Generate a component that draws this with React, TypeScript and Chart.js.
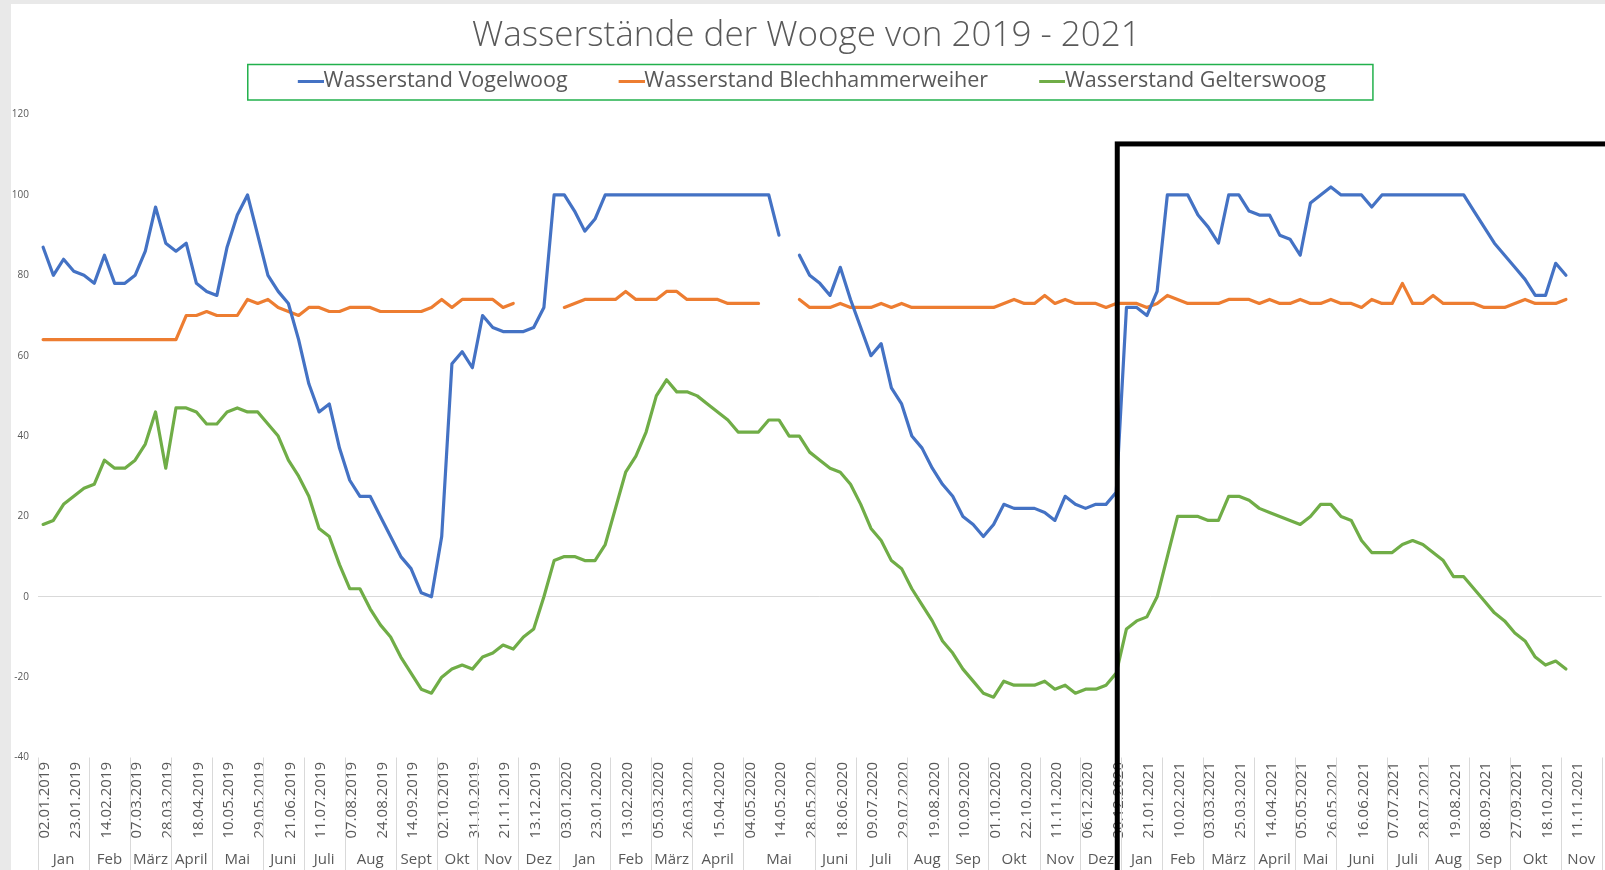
import React, { useEffect, useRef } from 'react';
import { Chart, registerables } from 'chart.js';

Chart.register(...registerables);

const TITLE = 'Wasserstände der Wooge von 2019 - 2021';
const SERIES_NAMES = ['Wasserstand Vogelwoog', 'Wasserstand Blechhammerweiher', 'Wasserstand Gelterswoog'];
const SERIES_COLORS = ['#4472c4', '#ed7d31', '#70ad47'];

// one category per measurement; every third category carries a visible date label
const CATEGORY_COUNT = 153;
const TICK_DATES = [
  '02.01.2019', '23.01.2019', '14.02.2019', '07.03.2019', '28.03.2019', '18.04.2019', '10.05.2019', '29.05.2019',
  '21.06.2019', '11.07.2019', '07.08.2019', '24.08.2019', '14.09.2019', '02.10.2019', '31.10.2019', '21.11.2019',
  '13.12.2019', '03.01.2020', '23.01.2020', '13.02.2020', '05.03.2020', '26.03.2020', '15.04.2020', '04.05.2020',
  '14.05.2020', '28.05.2020', '18.06.2020', '09.07.2020', '29.07.2020', '19.08.2020', '10.09.2020', '01.10.2020',
  '22.10.2020', '11.11.2020', '06.12.2020', '30.12.2020', '21.01.2021', '10.02.2021', '03.03.2021', '25.03.2021',
  '14.04.2021', '05.05.2021', '26.05.2021', '16.06.2021', '07.07.2021', '28.07.2021', '19.08.2021', '08.09.2021',
  '27.09.2021', '18.10.2021', '11.11.2021',
];

// month groups of the two-level category axis
const MONTH_NAMES = [
  'Jan', 'Feb', 'März', 'April', 'Mai', 'Juni', 'Juli', 'Aug', 'Sept', 'Okt', 'Nov', 'Dez',
  'Jan', 'Feb', 'März', 'April', 'Mai', 'Juni', 'Juli', 'Aug', 'Sep', 'Okt', 'Nov', 'Dez',
  'Jan', 'Feb', 'März', 'April', 'Mai', 'Juni', 'Juli', 'Aug', 'Sep', 'Okt', 'Nov',
];
const MONTH_STARTS = [
  0, 5, 9, 13, 17, 22, 26, 30, 35, 39, 43, 47,
  51, 56, 60, 64, 69, 76, 80, 85, 89, 93, 98, 102,
  106, 110, 114, 119, 123, 127, 132, 136, 140, 144, 149,
];

const VOGELWOOG = [
  87, 80, 84, 81, 80, 78, 85, 78, 78, 80,
  86, 97, 88, 86, 88, 78, 76, 75, 87, 95,
  100, 90, 80, 76, 73, 64, 53, 46, 48, 37,
  29, 25, 25, 20, 15, 10, 7, 1, 0, 15,
  58, 61, 57, 70, 67, 66, 66, 66, 67, 72,
  100, 100, 96, 91, 94, 100, 100, 100, 100, 100,
  100, 100, 100, 100, 100, 100, 100, 100, 100, 100,
  100, 100, 90, null, 85, 80, 78, 75, 82, 74,
  67, 60, 63, 52, 48, 40, 37, 32, 28, 25,
  20, 18, 15, 18, 23, 22, 22, 22, 21, 19,
  25, 23, 22, 23, 23, 26, 72, 72, 70, 76,
  100, 100, 100, 95, 92, 88, 100, 100, 96, 95,
  95, 90, 89, 85, 98, 100, 102, 100, 100, 100,
  97, 100, 100, 100, 100, 100, 100, 100, 100, 100,
  96, 92, 88, 85, 82, 79, 75, 75, 83, 80,
];

const BLECHHAMMERWEIHER = [
  64, 64, 64, 64, 64, 64, 64, 64, 64, 64,
  64, 64, 64, 64, 70, 70, 71, 70, 70, 70,
  74, 73, 74, 72, 71, 70, 72, 72, 71, 71,
  72, 72, 72, 71, 71, 71, 71, 71, 72, 74,
  72, 74, 74, 74, 74, 72, 73, null, null, null,
  null, 72, 73, 74, 74, 74, 74, 76, 74, 74,
  74, 76, 76, 74, 74, 74, 74, 73, 73, 73,
  73, null, null, null, 74, 72, 72, 72, 73, 72,
  72, 72, 73, 72, 73, 72, 72, 72, 72, 72,
  72, 72, 72, 72, 73, 74, 73, 73, 75, 73,
  74, 73, 73, 73, 72, 73, 73, 73, 72, 73,
  75, 74, 73, 73, 73, 73, 74, 74, 74, 73,
  74, 73, 73, 74, 73, 73, 74, 73, 73, 72,
  74, 73, 73, 78, 73, 73, 75, 73, 73, 73,
  73, 72, 72, 72, 73, 74, 73, 73, 73, 74,
];

const GELTERSWOOG = [
  18, 19, 23, 25, 27, 28, 34, 32, 32, 34,
  38, 46, 32, 47, 47, 46, 43, 43, 46, 47,
  46, 46, 43, 40, 34, 30, 25, 17, 15, 8,
  2, 2, -3, -7, -10, -15, -19, -23, -24, -20,
  -18, -17, -18, -15, -14, -12, -13, -10, -8, 0,
  9, 10, 10, 9, 9, 13, 22, 31, 35, 41,
  50, 54, 51, 51, 50, 48, 46, 44, 41, 41,
  41, 44, 44, 40, 40, 36, 34, 32, 31, 28,
  23, 17, 14, 9, 7, 2, -2, -6, -11, -14,
  -18, -21, -24, -25, -21, -22, -22, -22, -21, -23,
  -22, -24, -23, -23, -22, -19, -8, -6, -5, 0,
  10, 20, 20, 20, 19, 19, 25, 25, 24, 22,
  21, 20, 19, 18, 20, 23, 23, 20, 19, 14,
  11, 11, 11, 13, 14, 13, 11, 9, 5, 5,
  2, -1, -4, -6, -9, -11, -15, -17, -16, -18,
];

const Y_MIN = -40;
const Y_MAX = 120;
const Y_STEP = 20;

// hand-drawn highlight frame (annotation), anchored in data coordinates
const FRAME_FROM_CATEGORY = 105.1;
const FRAME_FROM_VALUE = 112.7;

const TEXT_COLOR = '#595959';
const FONT = "'Open Sans', 'Liberation Sans', sans-serif";

Chart.defaults.font.family = FONT;
Chart.defaults.color = TEXT_COLOR;

const overlayPlugin = {
  id: 'excelOverlay',
  afterDraw(chart: any) {
    const { ctx, chartArea, scales } = chart;
    const xs = scales.x;
    const ys = scales.y;
    const n = chart.data.labels.length;
    ctx.save();

    // month group separators
    ctx.strokeStyle = '#d9d9d9';
    ctx.lineWidth = 1;
    const bounds = [...MONTH_STARTS, n];
    bounds.forEach((b) => {
      const px = Math.round(xs.getPixelForValue(b - 0.5)) + 0.5;
      ctx.beginPath();
      ctx.moveTo(px, chartArea.bottom);
      ctx.lineTo(px, chart.height);
      ctx.stroke();
    });

    // month group labels
    ctx.fillStyle = TEXT_COLOR;
    ctx.font = `15px ${FONT}`;
    ctx.textAlign = 'center';
    ctx.textBaseline = 'middle';
    MONTH_NAMES.forEach((m, k) => {
      const a = MONTH_STARTS[k];
      const e = k + 1 < MONTH_STARTS.length ? MONTH_STARTS[k + 1] : n;
      const cx = (xs.getPixelForValue(a - 0.5) + xs.getPixelForValue(e - 0.5)) / 2;
      ctx.fillText(m, cx, chartArea.bottom + 102.5);
    });

    // legend frame
    const lg = chart.legend;
    if (lg && lg.legendHitBoxes && lg.legendHitBoxes.length) {
      const hb = lg.legendHitBoxes;
      const first = hb[0];
      const last = hb[hb.length - 1];
      const cy = first.top + first.height / 2;
      const left = first.left + 11 - 50;
      const right = last.left + last.width + 47;
      ctx.strokeStyle = '#22b14c';
      ctx.lineWidth = 1.5;
      ctx.strokeRect(left, cy - 16.5, right - left, 35.5);
    }

    // black highlight frame
    ctx.strokeStyle = '#000000';
    ctx.lineWidth = 5;
    const fx = xs.getPixelForValue(FRAME_FROM_CATEGORY);
    const fy = ys.getPixelForValue(FRAME_FROM_VALUE);
    ctx.strokeRect(fx, fy, chart.width + 50 - fx, chart.height + 50 - fy);
    ctx.restore();
  },
};

function legendLine(color: string) {
  const c = document.createElement('canvas');
  c.width = 48;
  c.height = 3;
  const g = c.getContext('2d')!;
  g.fillStyle = color;
  g.fillRect(22, 0, 26, 3);
  return c;
}

export default function App() {
  const ref = useRef<HTMLCanvasElement>(null);

  useEffect(() => {
    const canvas = ref.current;
    if (!canvas) return;
    const labels = Array.from({ length: CATEGORY_COUNT }, (_, i) =>
      i % 3 === 0 && TICK_DATES[i / 3] ? TICK_DATES[i / 3] : ''
    );
    const values = [VOGELWOOG, BLECHHAMMERWEIHER, GELTERSWOOG];
    const chart = new Chart(canvas, {
      type: 'line',
      data: {
        labels,
        datasets: SERIES_NAMES.map((name, k) => ({
          label: name,
          data: values[k],
          borderColor: SERIES_COLORS[k],
          backgroundColor: SERIES_COLORS[k],
          borderWidth: 3.2,
          pointRadius: 0,
          pointHoverRadius: 0,
          pointStyle: legendLine(SERIES_COLORS[k]) as any,
          tension: 0,
          spanGaps: false,
          fill: false,
          borderJoinStyle: 'round',
          borderCapStyle: 'round',
        })),
      },
      options: {
        responsive: false,
        animation: false,
        events: [],
        layout: { padding: { left: 0, right: 3.3, top: 0, bottom: 0 } },
        plugins: {
          title: {
            display: true,
            text: TITLE,
            color: TEXT_COLOR,
            font: { size: 35, weight: '300' as any, family: FONT, lineHeight: 1.2 },
            padding: { top: 11, bottom: -26.75 },
          },
          legend: {
            display: true,
            position: 'top',
            labels: {
              usePointStyle: true,
              pointStyleWidth: 26,
              padding: 40,
              color: TEXT_COLOR,
              font: { size: 21.5, family: FONT },
            },
          },
          subtitle: {
            display: true,
            text: '',
            weight: 500,
            font: { size: 1, lineHeight: 1 },
            padding: { top: 11.85, bottom: 0 },
          } as any,
          tooltip: { enabled: false },
        },
        scales: {
          x: {
            type: 'category',
            offset: true,
            grid: { display: false, drawTicks: false },
            border: { display: false },
            ticks: {
              autoSkip: false,
              minRotation: 90,
              maxRotation: 90,
              padding: 4.5,
              labelOffset: 2,
              color: TEXT_COLOR,
              font: { size: 15, family: FONT },
            },
            afterFit(scale: any) {
              scale.height = 112.5;
              scale.paddingLeft = 0;
              scale.paddingRight = 0;
            },
          },
          y: {
            min: Y_MIN,
            max: Y_MAX,
            ticks: {
              stepSize: Y_STEP,
              padding: 9,
              color: TEXT_COLOR,
              font: { size: 10, family: FONT },
            },
            grid: {
              drawTicks: false,
              color: (c: any) => (c.tick && c.tick.value === 0 ? '#d9d9d9' : 'rgba(0,0,0,0)'),
              lineWidth: 1,
            },
            border: { display: false },
            afterFit(scale: any) {
              scale.width = 27;
            },
          },
        },
      },
      plugins: [overlayPlugin],
    } as any);
    return () => chart.destroy();
  }, []);

  return (
    <div
      style={{
        position: 'fixed',
        left: 0,
        top: 0,
        width: 1605,
        height: 870,
        background: '#e9e9e9',
        overflow: 'hidden',
      }}
    >
      <div style={{ position: 'absolute', left: 11, top: 4, width: 1594, height: 866, background: '#ffffff' }}>
        <canvas ref={ref} width={1594} height={866} style={{ display: 'block', width: 1594, height: 866 }} />
      </div>
    </div>
  );
}
